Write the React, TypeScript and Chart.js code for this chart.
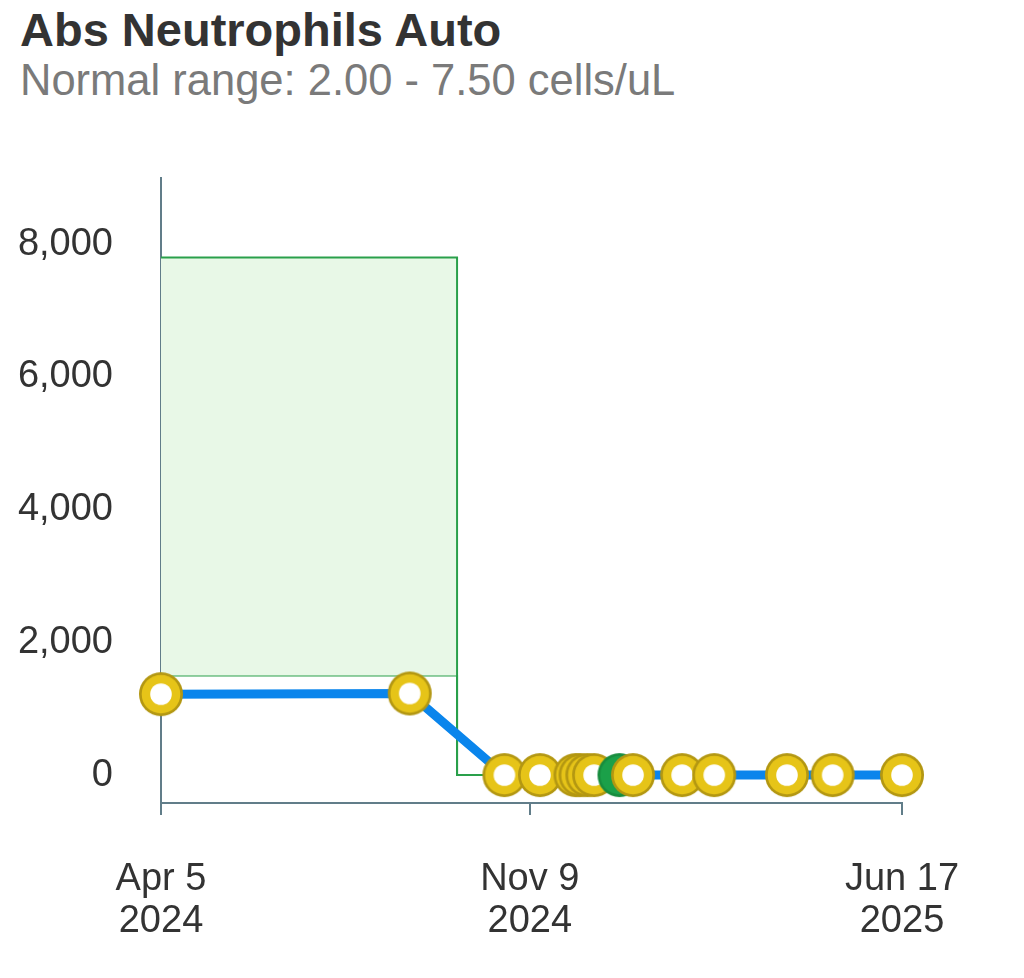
import { useEffect, useRef } from 'react'
import { Chart, registerables } from 'chart.js'

Chart.register(...registerables)

// Lab results (cells/uL)
const resultDates = [
  '2024-04-05', '2024-08-30', '2024-10-25', '2024-11-15', '2024-12-06',
  '2024-12-09', '2024-12-13', '2024-12-17', '2025-01-01', '2025-01-09',
  '2025-02-07', '2025-02-26', '2025-04-10', '2025-05-07', '2025-06-17'
]
const resultValues = [1220, 1230, 0, 0, 0, 0, 0, 0, 0, 0, 0, 0, 0, 0, 0]
const resultFlags = [
  'flagged', 'flagged', 'flagged', 'flagged', 'flagged',
  'flagged', 'flagged', 'flagged', 'normal', 'flagged',
  'flagged', 'flagged', 'flagged', 'flagged', 'flagged'
]

// Reference range band (stepped)
const rangeDates = ['2024-04-05', '2024-09-27', '2025-06-17']
const rangeUpper = [7800, 0, 0]
const rangeLower = [1500, 0, 0]

// Axis ticks
const xTickDates = ['2024-04-05', '2024-11-09', '2025-06-17']
const yTickValues = [0, 2000, 4000, 6000, 8000]

const MONTHS = ['Jan', 'Feb', 'Mar', 'Apr', 'May', 'Jun', 'Jul', 'Aug', 'Sep', 'Oct', 'Nov', 'Dec']
const AXIS_COLOR = '#617d89'
const FONT = '"Liberation Sans", Arial, Helvetica, sans-serif'

const toTime = (d: string) => {
  const [y, m, day] = d.split('-').map(Number)
  return Date.UTC(y, m - 1, day)
}

function makeMarker(ring: string, fill: string, hole: boolean) {
  const c = document.createElement('canvas')
  c.width = 46
  c.height = 46
  const g = c.getContext('2d')!
  const circle = (r: number, color: string) => {
    g.beginPath()
    g.arc(23, 23, r, 0, Math.PI * 2)
    g.fillStyle = color
    g.fill()
  }
  circle(22, ring)
  circle(19.3, fill)
  if (hole) circle(10.8, '#ffffff')
  return c
}

export default function App() {
  const chartRef = useRef<HTMLCanvasElement>(null)
  const chartInstance = useRef<Chart | null>(null)

  useEffect(() => {
    if (!chartRef.current) return
    const ctx = chartRef.current.getContext('2d')
    if (!ctx) return

    if (chartInstance.current) {
      chartInstance.current.destroy()
    }

    const yellowMarker = makeMarker('#b39712', '#e6c418', true)
    const greenMarker = makeMarker('#178c3e', '#1ba049', false)

    chartInstance.current = new Chart(ctx, {
      type: 'line',
      data: {
        datasets: [
          {
            label: 'Result',
            data: resultDates.map((d, i) => ({ x: toTime(d), y: resultValues[i] })),
            borderColor: '#0a85ec',
            borderWidth: 9,
            tension: 0,
            fill: false,
            clip: false,
            pointStyle: resultFlags.map(f => (f === 'normal' ? greenMarker : yellowMarker)) as any,
            pointRadius: 22
          },
          {
            label: 'Range upper',
            data: rangeDates.map((d, i) => ({ x: toTime(d), y: rangeUpper[i] })),
            borderColor: '#2aa04b',
            borderWidth: 2,
            backgroundColor: '#e8f8e7',
            stepped: true,
            fill: '+1',
            pointRadius: 0
          },
          {
            label: 'Range lower',
            data: rangeDates.map((d, i) => ({ x: toTime(d), y: rangeLower[i] })),
            borderColor: '#2aa04b',
            borderWidth: 2,
            stepped: true,
            fill: false,
            pointRadius: 0
          }
        ]
      },
      options: {
        animation: false,
        responsive: true,
        maintainAspectRatio: false,
        events: [],
        layout: {
          padding: { top: 0, right: 114, bottom: 0, left: 0 }
        },
        plugins: {
          legend: { display: false },
          tooltip: { enabled: false }
        },
        scales: {
          x: {
            type: 'linear',
            min: toTime(xTickDates[0]),
            max: toTime(xTickDates[xTickDates.length - 1]),
            afterBuildTicks: (scale: any) => {
              scale.ticks = xTickDates.map(d => ({ value: toTime(d) }))
            },
            afterFit: (scale: any) => {
              scale.height = 157
            },
            grid: {
              display: true,
              drawOnChartArea: false,
              drawTicks: true,
              tickLength: 12,
              color: AXIS_COLOR,
              lineWidth: 2
            },
            border: { display: true, color: AXIS_COLOR, width: 2 },
            ticks: {
              autoSkip: false,
              maxRotation: 0,
              padding: 44,
              color: '#333333',
              font: { size: 38, family: FONT, lineHeight: 1.1 },
              callback: (value: any) => {
                const d = new Date(Number(value))
                return [`${MONTHS[d.getUTCMonth()]} ${d.getUTCDate()}`, `${d.getUTCFullYear()}`]
              }
            }
          },
          y: {
            type: 'linear',
            min: -420,
            max: 9000,
            afterBuildTicks: (scale: any) => {
              scale.ticks = yTickValues.map(v => ({ value: v }))
            },
            afterFit: (scale: any) => {
              scale.width = 153
            },
            grid: { display: false, drawTicks: false },
            border: { display: true, color: AXIS_COLOR, width: 2 },
            ticks: {
              padding: 48,
              color: '#333333',
              font: { size: 38, family: FONT },
              callback: (value: any) => Number(value).toLocaleString('en-US')
            }
          }
        }
      }
    })

    return () => {
      if (chartInstance.current) {
        chartInstance.current.destroy()
        chartInstance.current = null
      }
    }
  }, [])

  return (
    <div style={{ position: 'relative', width: 1008, height: 960, fontFamily: FONT }}>
      <div
        style={{
          position: 'absolute',
          left: 12,
          top: -6,
          fontSize: 47,
          fontWeight: 'bold',
          color: '#333333',
          lineHeight: '56px',
          whiteSpace: 'nowrap'
        }}
      >
        Abs Neutrophils Auto
      </div>
      <div
        style={{
          position: 'absolute',
          left: 12,
          top: 46,
          fontSize: 43.5,
          color: '#7a7a7a',
          lineHeight: '52px',
          whiteSpace: 'nowrap'
        }}
      >
        Normal range: 2.00 - 7.50 cells/uL
      </div>
      <div style={{ position: 'absolute', left: 0, top: 99, width: 1008, height: 853 }}>
        <canvas ref={chartRef}></canvas>
      </div>
    </div>
  )
}
